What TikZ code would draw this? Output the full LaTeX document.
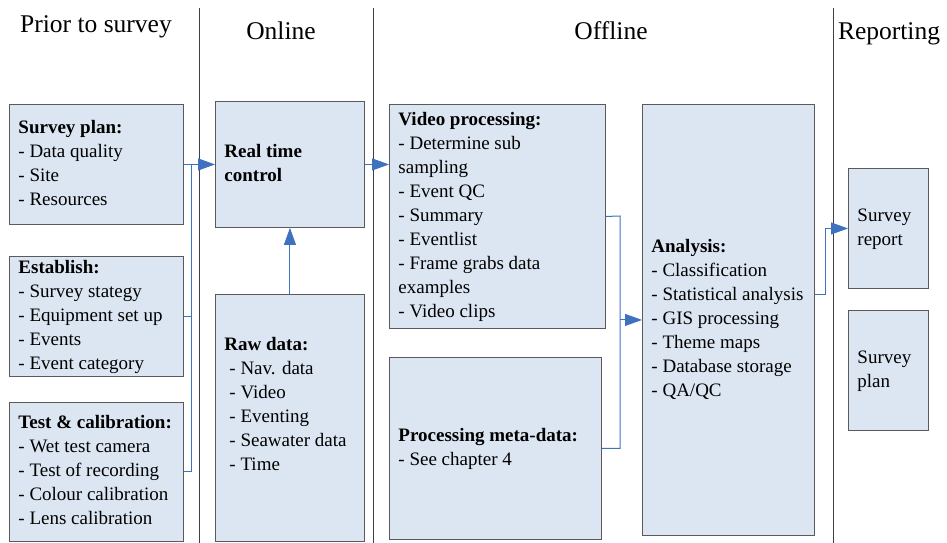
\documentclass[tikz,border=0pt]{standalone}
\usepackage{fontspec}
\setmainfont{Liberation Serif}
\usetikzlibrary{arrows.meta,calc}
\definecolor{boxfill}{HTML}{DCE6F2}
\definecolor{boxline}{HTML}{5A5A5A}
\definecolor{arrowblue}{RGB}{62,114,190}
\definecolor{sepline}{HTML}{404040}
\newcommand\bxt[2]{\makebox[#1][l]{\raisebox{-1.5pt}{\begin{tabular}{@{}l@{}}#2\end{tabular}}}}
\tikzset{
  boxnode/.style={draw=boxline, line width=0.9pt, fill=boxfill, inner xsep=9pt, inner ysep=0pt, anchor=north west,
    font=\fontsize{19}{24}\selectfont},
  headnode/.style={anchor=base, font=\fontsize{25.5}{30}\selectfont, inner sep=0pt},
  sepl/.style={draw=sepline, line width=0.9pt},
  conn/.style={draw=arrowblue, line width=1pt},
  arr/.style={conn, -{Triangle[length=17pt,width=12pt]}},
}
\begin{document}
\begin{tikzpicture}[x=1pt,y=-1pt]
\useasboundingbox (0,0) rectangle (947,543);
% separators
\coordinate (s1t) at (199,8); \coordinate (s1b) at (199,543);
\coordinate (s2t) at (373,8); \coordinate (s2b) at (373,543);
\coordinate (s3t) at (833,8); \coordinate (s3b) at (833,543);
\draw[sepl] (s1t) -- (s1b);
\draw[sepl] (s2t) -- (s2b);
\draw[sepl] (s3t) -- (s3b);
% headings
\node[headnode] (h1) at (96,33) {Prior to survey};
\node[headnode] (h2) at (281,40) {Online};
\node[headnode] (h3) at (611,40) {Offline};
\node[headnode] (h4) at (889,40) {Reporting};
% boxes
\node[boxnode, minimum width=174pt, minimum height=120pt] (sp) at (9,104)
  {\bxt{156pt}{\textbf{Survey plan:}\\- Data quality\\- Site\\- Resources}};
\node[boxnode, minimum width=174pt, minimum height=120pt] (est) at (9,256)
  {\bxt{156pt}{\textbf{Establish:}\\- Survey stategy\\- Equipment set up\\- Events\\- Event category}};
\node[boxnode, minimum width=174pt, minimum height=139pt] (tc) at (9,402)
  {\bxt{156pt}{\textbf{Test \& calibration:}\\- Wet test camera\\- Test of recording\\- Colour calibration\\- Lens calibration}};
\node[boxnode, minimum width=149pt, minimum height=126pt] (rtc) at (215,101)
  {\bxt{131pt}{\textbf{Real time}\\\textbf{control}}};
\node[boxnode, minimum width=149pt, minimum height=247pt] (raw) at (215,294)
  {\bxt{131pt}{\textbf{Raw data:}\\\hspace{5pt}- Nav. data\\\hspace{5pt}- Video\\\hspace{5pt}- Eventing\\\hspace{5pt}- Seawater data\\\hspace{5pt}- Time\\~}};
\node[boxnode, minimum width=216pt, minimum height=224pt] (vp) at (389,104)
  {\bxt{198pt}{\textbf{Video processing:}\\- Determine sub\\sampling\\- Event QC\\- Summary\\- Eventlist\\- Frame grabs data\\examples\\- Video clips}};
\node[boxnode, minimum width=212pt, minimum height=182pt] (md) at (389,357)
  {\bxt{194pt}{\textbf{Processing meta-data:}\\- See chapter 4}};
\node[boxnode, minimum width=172pt, minimum height=431pt] (an) at (642,104)
  {\bxt{154pt}{\textbf{Analysis:}\\- Classification\\- Statistical analysis\\- GIS processing\\- Theme maps\\- Database storage\\- QA/QC}};
\node[boxnode, minimum width=80pt, minimum height=120pt] (sr) at (848,168)
  {\bxt{62pt}{Survey\\report}};
\node[boxnode, minimum width=80pt, minimum height=120pt] (spl) at (848,310)
  {\bxt{62pt}{Survey\\plan}};
% connectors: left bus
\coordinate (b1) at (191,164);
\draw[conn] (b1) -- (b1 |- tc.east);
\draw[conn] (est.east) -- (est.east -| b1);
\draw[conn] (tc.east) -- (tc.east -| b1);
\draw[arr] (sp.east) -- (rtc.west);
\draw[arr] (raw.north) -- (rtc.south);
\draw[arr] (rtc.east) -- (rtc.east -| vp.west);
% offline bus
\coordinate (j1) at (620,216);
\draw[conn] (vp.east) -- (j1) -- (j1 |- md.east) -- (md.east);
\draw[arr] (an.west -| j1) -- (an.west);
% to reporting
\coordinate (j2) at (825,294);
\draw[arr] (an.east |- j2) -- (j2) |- (sr.west);
\end{tikzpicture}
\end{document}
